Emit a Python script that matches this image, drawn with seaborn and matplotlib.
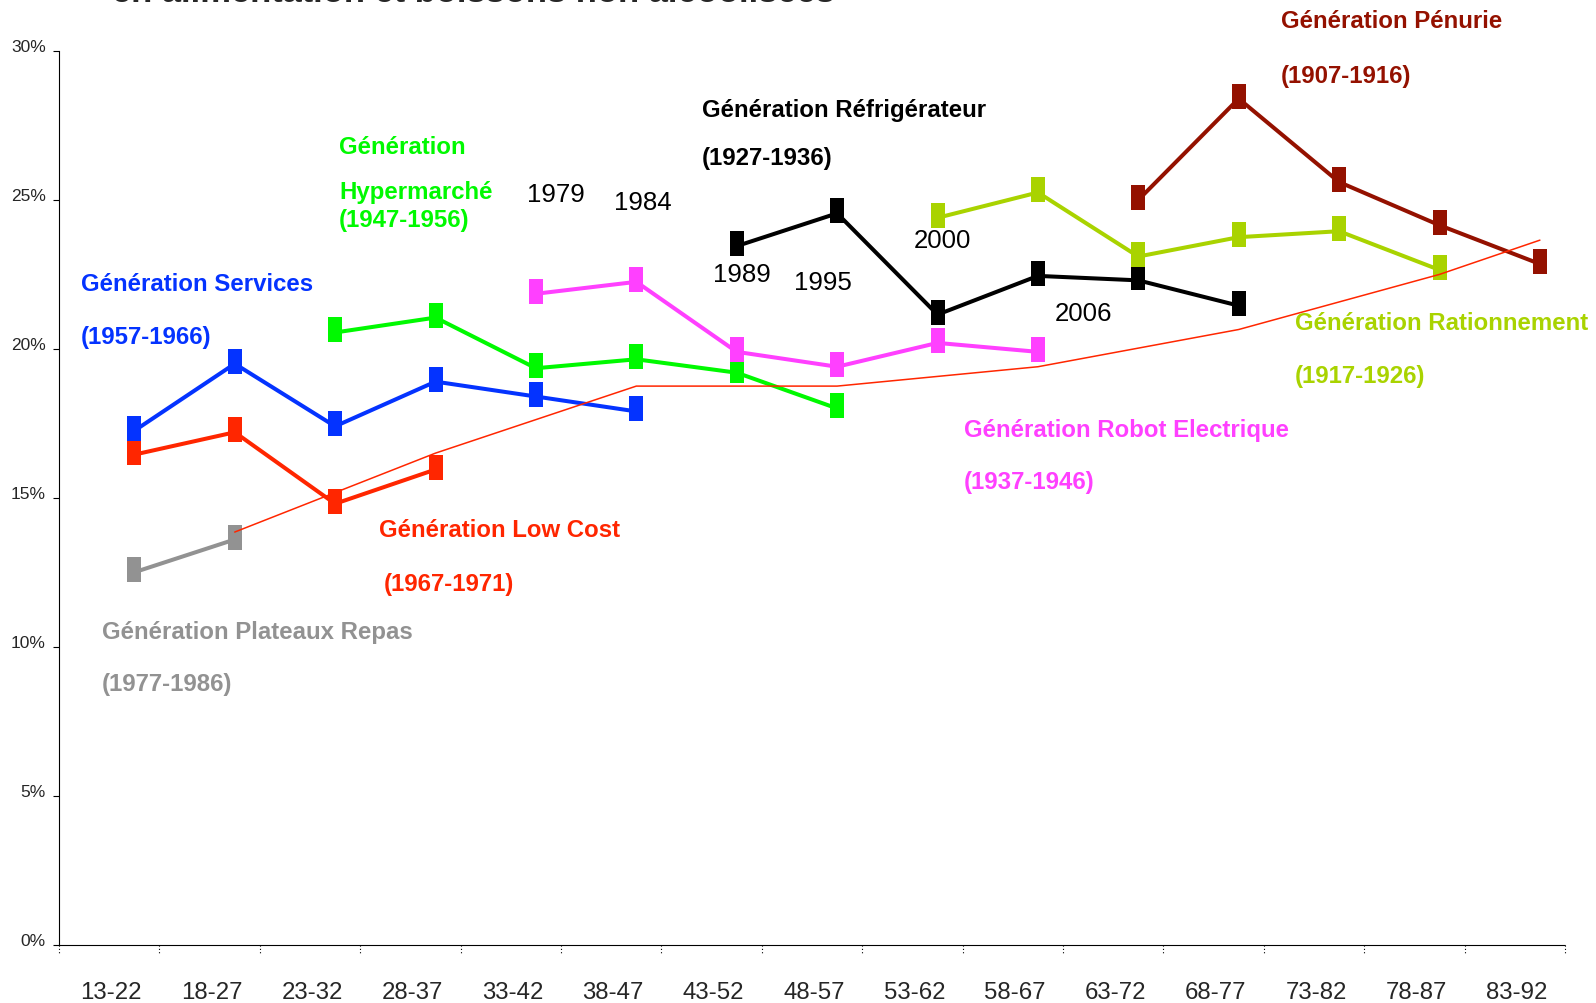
import numpy as np
import pandas as pd
import matplotlib
matplotlib.use("Agg")
import matplotlib.pyplot as plt
from matplotlib.path import Path
import seaborn as sns

# tranches d'age (axe x)
age_groups = ["13-22", "18-27", "23-32", "28-37", "33-42", "38-47", "43-52", "48-57",
              "53-62", "58-67", "63-72", "68-77", "73-82", "78-87", "83-92"]

# part du budget (%) par generation, a partir de la premiere tranche observee
services = [17.25, 19.5, 17.4, 18.9, 18.4, 17.9]           # 1957-1966
low_cost = [16.45, 17.2, 14.8, 15.95]                        # 1967-1971
plateaux = [12.5, 13.6]                                      # 1977-1986
hypermarche = [20.55, 21.05, 19.35, 19.65, 19.2, 18.0]       # 1947-1956
robot = [21.85, 22.25, 19.9, 19.4, 20.2, 19.9]               # 1937-1946
refrigerateur = [23.45, 24.55, 21.15, 22.45, 22.3, 21.45]    # 1927-1936
rationnement = [24.4, 25.25, 23.1, 23.75, 23.95, 22.65]      # 1917-1926
penurie = [25.0, 28.4, 25.6, 24.15, 22.85]                   # 1907-1916

# courbe fine (ensemble)
ensemble_groups = ["18-27", "28-37", "38-47", "48-57", "58-67", "68-77", "78-87", "83-92"]
ensemble = [13.85, 16.5, 18.75, 18.75, 19.4, 20.65, 22.5, 23.65]

survey_years = ["1979", "1984", "1989", "1995", "2000", "2006"]

generations = [
    # nom, annees, couleur, premiere tranche, valeurs
    ("Génération Plateaux Repas", "(1977-1986)", "#929292", "13-22", plateaux),
    ("Génération Low Cost", "(1967-1971)", "#FF2600", "13-22", low_cost),
    ("Génération Services", "(1957-1966)", "#0433FF", "13-22", services),
    ("Génération Hypermarché", "(1947-1956)", "#00F900", "23-32", hypermarche),
    ("Génération Robot Electrique", "(1937-1946)", "#FF40FF", "33-42", robot),
    ("Génération Réfrigérateur", "(1927-1936)", "#000000", "43-52", refrigerateur),
    ("Génération Rationnement", "(1917-1926)", "#A9D300", "53-62", rationnement),
    ("Génération Pénurie", "(1907-1916)", "#941100", "63-72", penurie),
]

rows = []
for name, years, color, start, vals in generations:
    i0 = age_groups.index(start)
    for k, v in enumerate(vals):
        rows.append({"generation": name, "pos": i0 + k, "value": v})
df = pd.DataFrame(rows)

ens = pd.DataFrame({"pos": [age_groups.index(g) for g in ensemble_groups],
                    "value": ensemble})

sns.set_style("white")
plt.rcParams["font.family"] = ["Liberation Sans", "DejaVu Sans"]

W, H = 1596, 1004
fig = plt.figure(figsize=(W / 100, H / 100), dpi=100)
ax = fig.add_axes([59 / W, 1 - 945.6 / H, (1565 - 59) / W, (945.6 - 52) / H])

# marqueur rectangulaire vertical, un peu decale vers le haut
rect = Path([(-7.5, -10), (7.5, -10), (7.5, 15.5), (-7.5, 15.5), (-7.5, -10)],
            [Path.MOVETO, Path.LINETO, Path.LINETO, Path.LINETO, Path.CLOSEPOLY])

for name, years, color, start, vals in generations:
    sub = df[df["generation"] == name]
    sns.lineplot(data=sub, x="pos", y="value", color=color, linewidth=2.9,
                 marker=rect, markersize=22.3, markeredgewidth=0, ax=ax)

sns.lineplot(data=ens, x="pos", y="value", color="#FF2600", linewidth=1.1,
             ax=ax, zorder=5)

ax.set_xlim(-0.75, len(age_groups) - 0.75)
ax.set_ylim(0, 30)
ax.set_xlabel("")
ax.set_ylabel("")

# axe y
ax.set_yticks(np.arange(0, 31, 5))
ax.set_yticklabels([f"{t}%" for t in range(0, 31, 5)], fontsize=12.5)
for lab in ax.get_yticklabels():
    lab.set_verticalalignment("baseline")
ax.tick_params(axis="y", left=True, length=4.5, width=0.8, color="black", pad=5)

# axe x : libelles au centre des tranches, petits traits pointilles aux bornes
ax.set_xticks(np.arange(len(age_groups)) - 0.23)
ax.set_xticklabels(age_groups, fontsize=17.3)
ax.tick_params(axis="x", bottom=False, length=0, pad=26)
for b in np.arange(-0.75, len(age_groups), 1.0):
    ax.plot([b, b], [0, -0.011], transform=ax.get_xaxis_transform(),
            color="black", linestyle=(0, (1, 2)), linewidth=0.8, clip_on=False)

for s in ["top", "right"]:
    ax.spines[s].set_visible(False)
ax.spines["left"].set_color("black")
ax.spines["left"].set_linewidth(0.8)
ax.spines["bottom"].set_color("black")
ax.spines["bottom"].set_linestyle((0, (1, 1)))
ax.spines["bottom"].set_linewidth(0.8)


def px_text(x, y, s, **kw):
    fig.text(x / W, 1 - (y + 2) / H, s, ha="left", va="center", **kw)


lab_kw = dict(fontsize=17.3, fontweight="bold")
px_text(81, 283, "Génération Services", color="#0433FF", **lab_kw)
px_text(81, 336, "(1957-1966)", color="#0433FF", **lab_kw)
px_text(339, 146, "Génération", color="#00F900", **lab_kw)
px_text(339, 190, "Hypermarché", color="#00F900", **lab_kw)
px_text(339, 219, "(1947-1956)", color="#00F900", **lab_kw)
px_text(702, 109, "Génération Réfrigérateur", color="#000000", **lab_kw)
px_text(702, 157, "(1927-1936)", color="#000000", **lab_kw)
px_text(1281, 20, "Génération Pénurie", color="#941100", **lab_kw)
px_text(1281, 74, "(1907-1916)", color="#941100", **lab_kw)
px_text(1295, 322, "Génération Rationnement", color="#A9D300", **lab_kw)
px_text(1295, 375, "(1917-1926)", color="#A9D300", **lab_kw)
px_text(964, 428, "Génération Robot Electrique", color="#FF40FF", **lab_kw)
px_text(964, 481, "(1937-1946)", color="#FF40FF", **lab_kw)
px_text(379, 529, "Génération Low Cost", color="#FF2600", **lab_kw)
px_text(384, 583, "(1967-1971)", color="#FF2600", **lab_kw)
px_text(102, 630, "Génération Plateaux Repas", color="#929292", **lab_kw)
px_text(102, 683, "(1977-1986)", color="#929292", **lab_kw)

# annees d'enquete
year_pos = [(527, 193), (614, 201), (713, 273), (794, 281), (914, 239), (1055, 312)]
for yr, (x, y) in zip(survey_years, year_pos):
    px_text(x, y, yr, fontsize=18.6, color="black")

# titre (coupe en haut de l'image, comme sur l'original)
fig.text(473 / W, 1 - 2 / H, "en alimentation et boissons non alcoolisées",
         ha="center", va="baseline", fontsize=24.8, fontweight="bold")

fig.savefig("out.png", dpi=100)
